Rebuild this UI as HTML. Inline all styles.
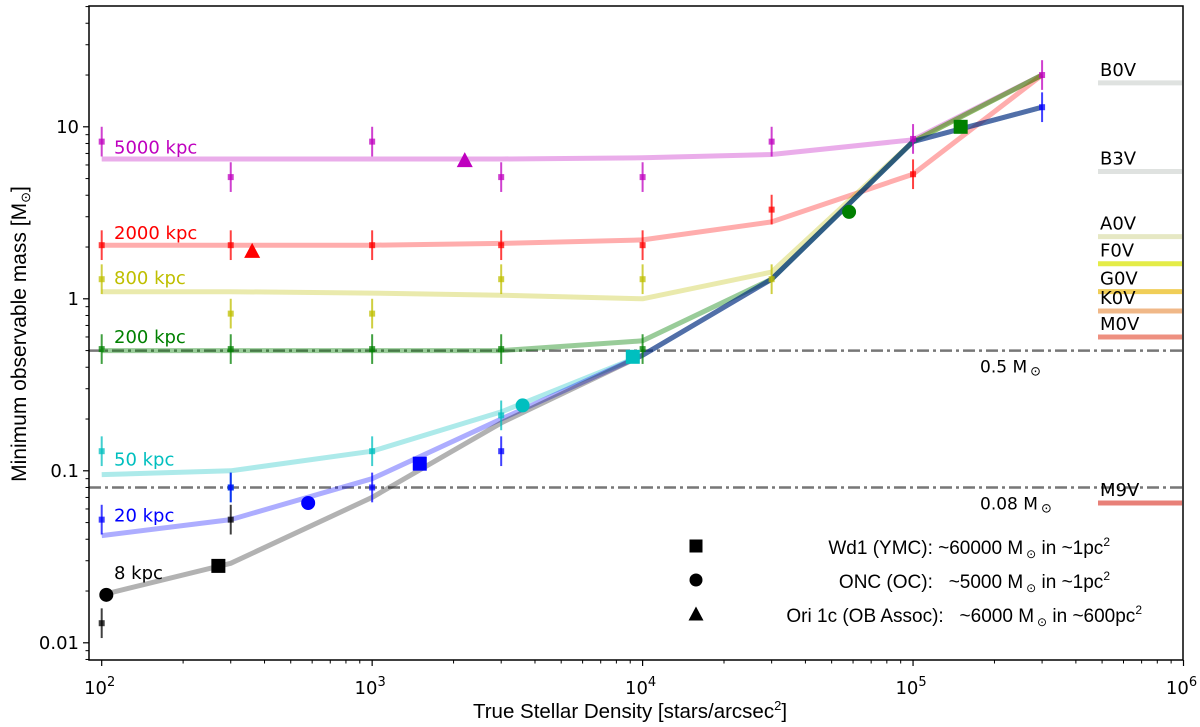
<!DOCTYPE html>
<html><head><meta charset="utf-8">
<style>
html,body{margin:0;padding:0;background:#fff;}
svg{display:block;font-family:"DejaVu Sans","Liberation Sans",sans-serif;}
.pre{white-space:pre;}
</style></head>
<body>
<svg id="chart" width="1200" height="727" viewBox="0 0 1200 727" xmlns="http://www.w3.org/2000/svg">
<g id="layer-lines"></g>
<g id="layer-marks"></g>
<g id="layer-axes"></g>
</svg>
<script>
const densities = [100, 300, 1000, 3000, 1e4, 3e4, 1e5, 3e5];
const seriesNames = ["5000 kpc", "2000 kpc", "800 kpc", "200 kpc", "50 kpc", "20 kpc", "8 kpc"];
const seriesColors = ["#bf00bf", "#ff0000", "#bfbf00", "#008000", "#00bfbf", "#0000ff", "#000000"];
const line5000 = [6.5, 6.5, 6.5, 6.5, 6.6, 6.9, 8.4, 20];
const line2000 = [2.05, 2.05, 2.05, 2.1, 2.2, 2.8, 5.3, 20];
const line800 = [1.1, 1.1, 1.08, 1.05, 1.0, 1.43, 8.2, 20];
const line200 = [0.5, 0.5, 0.5, 0.5, 0.57, 1.3, 8.2, 20];
const line50 = [0.095, 0.1, 0.13, 0.22, 0.47, 1.3, 8.2, 13];
const line20 = [0.042, 0.052, 0.09, 0.2, 0.47, 1.3, 8.2, 13];
const line8 = [0.019, 0.029, 0.07, 0.19, 0.47, 1.3, 8.2, 13];
const pts5000 = [8.2, 5.1, 8.2, 5.1, 5.1, 8.2, 8.5, 20];
const pts2000 = [2.05, 2.05, 2.05, 2.05, 2.05, 3.3, 5.3, null];
const pts800 = [1.3, 0.82, 0.82, 1.3, 1.3, 1.3, null, null];
const pts200 = [0.51, 0.51, 0.51, 0.51, 0.51, null, null, null];
const pts50 = [0.13, 0.08, 0.13, 0.21, null, null, null, null];
const pts20 = [0.052, 0.08, 0.08, 0.13, null, null, null, 13];
const pts8 = [0.013, 0.052, null, null, null, null, null, null];
const labelY = [7.6, 2.41, 1.32, 0.6, 0.116, 0.055, 0.0254];
const clusterX = [270, 104, 580, 1500, 3600, 9200, 58000, 150000, 360, 2200];
const clusterY = [0.028, 0.019, 0.065, 0.11, 0.24, 0.46, 3.2, 10, 1.9, 6.4];
const clusterShape = ["s", "o", "o", "s", "o", "s", "o", "s", "^", "^"];
const clusterColor = ["#000000", "#000000", "#0000ff", "#0000ff", "#00bfbf", "#00bfbf", "#008000", "#008000", "#ff0000", "#bf00bf"];
const specNames = ["B0V", "B3V", "A0V", "F0V", "G0V", "K0V", "M0V", "M9V"];
const specMass = [18, 5.5, 2.3, 1.6, 1.1, 0.85, 0.6, 0.065];
const specColors = ["#dfe2e0", "#dfe2e0", "#e6e8c4", "#e4ec48", "#f0ce58", "#f0b888", "#ee9080", "#e88078"];
const refMass = [0.5, 0.08];
const refLabels = ["0.5 M", "0.08 M"];
const xTicks = [2, 3, 4, 5, 6];
const yTicks = [0.01, 0.1, 1, 10];
const yTickLabels = ["0.01", "0.1", "1", "10"];

const X0 = 101.7, XD = 270.45, Y1 = 298.8, YD = 172;
const L = 89, R = 1183, T = 6, B = 660;
function xs(v){ return X0 + (Math.log10(v) - 2) * XD; }
function ys(v){ return Y1 - Math.log10(v) * YD; }
const NS = "http://www.w3.org/2000/svg";
function mk(tag, parent, attrs){ const e = document.createElementNS(NS, tag); for (const k in attrs) e.setAttribute(k, attrs[k]); parent.appendChild(e); return e; }
const gL = document.getElementById("layer-lines"), gM = document.getElementById("layer-marks"), gA = document.getElementById("layer-axes");
const lines = [line5000, line2000, line800, line200, line50, line20, line8];
const pts = [pts5000, pts2000, pts800, pts200, pts50, pts20, pts8];

refMass.forEach((m, i) => {
  const l = mk("line", gL, {x1: L, x2: R, y1: ys(m), y2: ys(m), stroke: "#777", "stroke-width": 2.5, "stroke-dasharray": "12 4 3 4"});
  
  
  const t = mk("text", gA, {x: 980, y: ys(m) + 22, "font-size": 17, fill: "#000"});
  t.textContent = refLabels[i];
  const ts = mk("tspan", t, {"font-size": 13, dx: 3, dy: 3}); ts.textContent = "\u2299";
  
  
});

lines.forEach((arr, si) => {
  const d = arr.map((v, i) => (i ? "L" : "M") + xs(densities[i]).toFixed(1) + "," + ys(v).toFixed(1)).join(" ");
  const p = mk("path", gL, {d: d, fill: "none", stroke: seriesColors[si], "stroke-width": 5, "stroke-opacity": si === 6 ? 0.3 : (si === 3 ? 0.4 : 0.32), "stroke-linejoin": "round"});
  
  
});

pts.forEach((arr, si) => {
  arr.forEach((v, i) => {
    if (v === null) return;
    const x = xs(densities[i]), y = ys(v);
    const eb = mk("line", gM, {x1: x, x2: x, y1: ys(v * 1.22), y2: ys(v / 1.22), stroke: seriesColors[si], "stroke-width": 2, "stroke-opacity": 0.75});
    
    
    const r = mk("rect", gM, {x: x - 3, y: y - 3, width: 6, height: 6, fill: seriesColors[si], "fill-opacity": 0.75});
    
    
  });
  const t = mk("text", gM, {x: 114, y: ys(labelY[si]) + 6, "font-size": 18, fill: seriesColors[si]});
  t.textContent = seriesNames[si];
  
  
});

function marker(parent, shape, x, y, c, s){
  let e;
  if (shape === "s") e = mk("rect", parent, {x: x - s, y: y - s, width: 2 * s, height: 2 * s, fill: c});
  else if (shape === "o") e = mk("circle", parent, {cx: x, cy: y, r: s, fill: c});
  else e = mk("polygon", parent, {points: `${x},${y - s - 1} ${x - s - 1},${y + s} ${x + s + 1},${y + s}`, fill: c});
  return e;
}
clusterX.forEach((cx, i) => {
  const e = marker(gM, clusterShape[i], xs(cx), ys(clusterY[i]), clusterColor[i], 7);
  
  
});

specNames.forEach((n, i) => {
  const y = ys(specMass[i]);
  const l = mk("line", gM, {x1: 1098, x2: 1182, y1: y, y2: y, stroke: specColors[i], "stroke-width": 5});
  
  
  const t = mk("text", gM, {x: 1100, y: y - 7, "font-size": 18, fill: "#000"});
  t.textContent = n;
  
  
});

const legText = [["Wd1 (YMC): ~60000 M", " in ~1pc"], ["ONC (OC):   ~5000 M", " in ~1pc"], ["Ori 1c (OB Assoc):   ~6000 M", " in ~600pc"]];
const legShape = ["s", "o", "^"], legY = [548, 582, 616], legRight = [1110, 1110, 1142];
legShape.forEach((s, i) => {
  const m = marker(gA, s, 696, legY[i] - 2, "#000", 6.5);
  
  
  const t = mk("text", gA, {x: legRight[i], y: legY[i] + 6, "font-size": 19, "text-anchor": "end", fill: "#000", "font-family": "Liberation Sans, sans-serif", "class": "pre"});
  
  
  t.appendChild(document.createTextNode(legText[i][0]));
  const o = mk("tspan", t, {"font-size": 12, dy: 4, dx: 3}); o.textContent = "\u2299";
  const r = mk("tspan", t, {dy: -4}); r.textContent = legText[i][1];
  const sup = mk("tspan", t, {"font-size": 12, dy: -8}); sup.textContent = "2";
});

const fr = mk("rect", gA, {x: L, y: T, width: R - L, height: B - T, fill: "none", stroke: "#000", "stroke-width": 1.5});


xTicks.forEach(e => {
  const x = xs(Math.pow(10, e));
  mk("line", gA, {x1: x, x2: x, y1: B, y2: B + 6, stroke: "#000", "stroke-width": 1.2});
  const t = mk("text", gA, {x: x - 2, y: B + 34, "font-size": 18, "text-anchor": "middle"});
  t.textContent = "10";
  const s = mk("tspan", t, {"font-size": 13, dy: -8}); s.textContent = String(e);
  
  
  if (e < 6) for (let k = 2; k < 10; k++) { const xm = xs(k * Math.pow(10, e)); mk("line", gA, {x1: xm, x2: xm, y1: B, y2: B + 3.5, stroke: "#000", "stroke-width": 1}); }
});
yTicks.forEach((v, i) => {
  const y = ys(v);
  mk("line", gA, {x1: L - 6, x2: L, y1: y, y2: y, stroke: "#000", "stroke-width": 1.2});
  const t = mk("text", gA, {x: L - 10, y: y + 6, "font-size": 18, "text-anchor": "end"});
  t.textContent = yTickLabels[i];
  
  
});
for (let e = -3; e < 2; e++) for (let k = 2; k < 10; k++) {
  const y = ys(k * Math.pow(10, e));
  if (y < T || y > B) continue;
  mk("line", gA, {x1: L - 3.5, x2: L, y1: y, y2: y, stroke: "#000", "stroke-width": 1});
}
const xt = mk("text", gA, {x: 630, y: 718, "font-size": 20.5, "text-anchor": "middle", "font-family": "Liberation Sans, sans-serif"});
xt.textContent = "True Stellar Density [stars/arcsec";
const xs2 = mk("tspan", xt, {"font-size": 13, dy: -8}); xs2.textContent = "2";
const xs3 = mk("tspan", xt, {dy: 8}); xs3.textContent = "]";


const yt = mk("text", gA, {x: 0, y: 0, "font-size": 21, "text-anchor": "middle", transform: "translate(26,334) rotate(-90)", "font-family": "Liberation Sans, sans-serif"});
yt.textContent = "Minimum observable mass [M";
const ys1 = mk("tspan", yt, {"font-size": 13, dy: 4}); ys1.textContent = "\u2299";
const ys2 = mk("tspan", yt, {dy: -4}); ys2.textContent = "]";


</script>
</body></html>
